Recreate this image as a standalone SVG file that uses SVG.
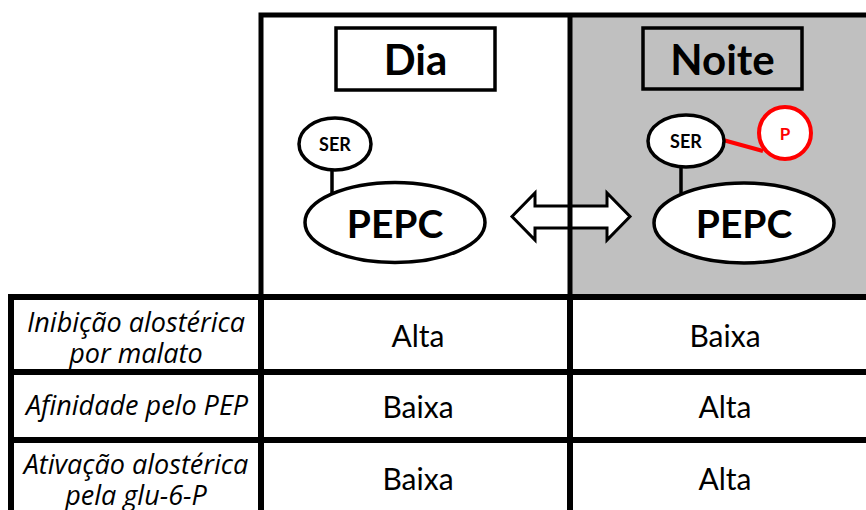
<svg xmlns="http://www.w3.org/2000/svg" width="866" height="510" viewBox="0 0 866 510">
  <style>
    .frame { fill: none; stroke: #000; stroke-width: 5; }
    .grid { fill: none; stroke: #000; stroke-width: 6; }
    .node { fill: #fff; stroke: #000; stroke-width: 3.5; }
    .link { stroke: #000; stroke-width: 3.5; }
    .title { font-family: Lato, "Liberation Sans", sans-serif; font-weight: bold; font-size: 42px; text-anchor: middle; fill: #000; }
    .ser { font-family: Lato, "Liberation Sans", sans-serif; font-weight: bold; font-size: 18px; text-anchor: middle; fill: #000; }
    .pepc { font-family: Lato, "Liberation Sans", sans-serif; font-weight: bold; font-size: 39px; text-anchor: middle; fill: #000; }
    .rowlabel { font-family: "Open Sans", "Liberation Sans", sans-serif; font-style: italic; font-size: 27px; text-anchor: middle; fill: #000; }
    .cell { font-family: Lato, "Liberation Sans", sans-serif; font-size: 30px; text-anchor: middle; fill: #000; }
    .phos { fill: #fff; stroke: #ff0000; stroke-width: 4; }
  </style>

  <!-- night panel background -->
  <rect x="570" y="15" width="300" height="282" fill="#c0c0c0"/>

  <!-- day / night transition arrow -->
  <g id="switch-arrow">
    <path d="M512,216.5 L535,193 L535,206 L607,206 L607,193 L630,216.5 L607,240 L607,228 L535,228 L535,240 Z" fill="#fff" stroke="#000" stroke-width="3" stroke-linejoin="miter"/>
  </g>

  <!-- panel frame -->
  <g id="panel-frame">
    <path class="frame" d="M261,297 L261,15 L870,15"/>
    <line class="frame" x1="570" y1="15" x2="570" y2="297"/>
  </g>

  <!-- day state -->
  <g id="dia">
    <rect x="336" y="28" width="159" height="62" fill="#fff" stroke="#000" stroke-width="3.5"/>
    <text class="title" x="415.5" y="75">Dia</text>
  </g>
  <g id="dia-pepc">
    <line class="link" x1="332" y1="168" x2="332" y2="193"/>
    <ellipse class="node" cx="335" cy="144" rx="36" ry="26"/>
    <text class="ser" x="335" y="150.5">SER</text>
    <ellipse class="node" cx="395" cy="222.5" rx="90" ry="40"/>
    <text class="pepc" x="395" y="238">PEPC</text>
  </g>

  <!-- night state -->
  <g id="noite">
    <rect x="643" y="28" width="159" height="61" fill="none" stroke="#000" stroke-width="3.5"/>
    <text class="title" x="722.5" y="75">Noite</text>
  </g>
  <g id="noite-pepc">
    <line class="link" x1="681" y1="167" x2="681" y2="193"/>
    <line x1="723" y1="140" x2="763" y2="151" stroke="#ff0000" stroke-width="4"/>
    <ellipse class="node" cx="686" cy="141" rx="38" ry="26"/>
    <text class="ser" x="686" y="147.5">SER</text>
    <circle class="phos" cx="785" cy="133" r="26"/>
    <text x="785" y="139.5" font-family="Lato, 'Liberation Sans', sans-serif" font-weight="bold" font-size="17" fill="#ff0000" text-anchor="middle">P</text>
    <ellipse class="node" cx="744" cy="223" rx="90" ry="40"/>
    <text class="pepc" x="744" y="238">PEPC</text>
  </g>

  <!-- property table -->
  <g id="table-grid">
    <line class="grid" x1="10" y1="297" x2="870" y2="297"/>
    <line class="grid" x1="10" y1="372" x2="870" y2="372"/>
    <line class="grid" x1="10" y1="440" x2="870" y2="440"/>
    <line class="grid" x1="11" y1="294" x2="11" y2="512"/>
    <line class="grid" x1="261" y1="294" x2="261" y2="512"/>
    <line class="grid" x1="570" y1="294" x2="570" y2="512"/>
  </g>

  <g id="row-inibicao">
    <text class="rowlabel" x="136" y="332">Inibição alostérica</text>
    <text class="rowlabel" x="136" y="363">por malato</text>
    <text class="cell" x="418" y="347">Alta</text>
    <text class="cell" x="725" y="347">Baixa</text>
  </g>
  <g id="row-afinidade">
    <text class="rowlabel" x="137" y="415">Afinidade pelo PEP</text>
    <text class="cell" x="418" y="418">Baixa</text>
    <text class="cell" x="725" y="418">Alta</text>
  </g>
  <g id="row-ativacao">
    <text class="rowlabel" x="136" y="474">Ativação alostérica</text>
    <text class="rowlabel" x="136" y="505">pela glu-6-P</text>
    <text class="cell" x="418" y="490">Baixa</text>
    <text class="cell" x="725" y="490">Alta</text>
  </g>
</svg>
